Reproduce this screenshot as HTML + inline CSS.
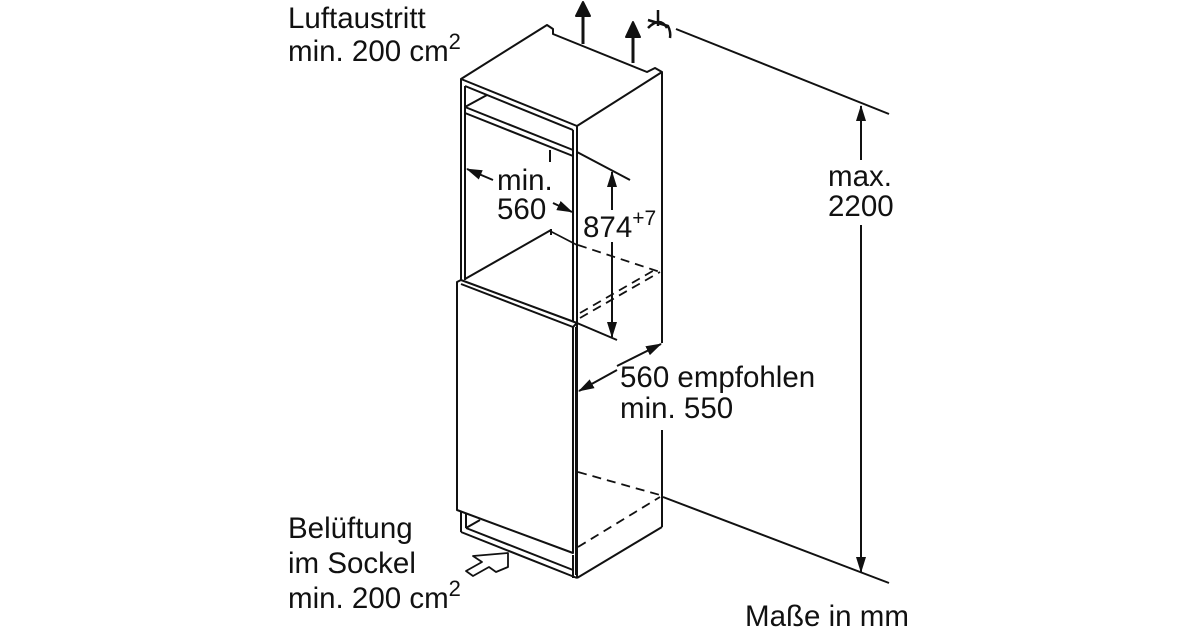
<!DOCTYPE html>
<html><head><meta charset="utf-8"><style>
html,body{margin:0;padding:0;background:#fff;}
svg{display:block;}
text{font-family:"Liberation Sans",Arial,sans-serif;font-size:29.5px;fill:#111;}
</style></head><body>
<svg width="1200" height="630" viewBox="0 0 1200 630" xmlns="http://www.w3.org/2000/svg">
<defs>
<marker id="ah" markerWidth="16" markerHeight="10" refX="15" refY="5" orient="auto" markerUnits="userSpaceOnUse"><path d="M0,0 L16,5 L0,10 Z" fill="#111"/></marker>
</defs>
<rect x="617" y="350" width="210" height="72" fill="#fff"/>
<g stroke="#111" stroke-width="2" fill="none" stroke-linejoin="round">
<path d="M461,79 L547,25 L553,29 L553,34 L647,72 L655,68 L662,72 L577,126 Z" fill="#fff"/>
<line x1="662" y1="72" x2="662" y2="343"/>
<line x1="662" y1="430" x2="662" y2="527"/>
<line x1="662" y1="527" x2="577" y2="578"/>
<line x1="577" y1="126" x2="577" y2="578"/>
<line x1="461" y1="79" x2="461" y2="282"/>
<line x1="465" y1="86" x2="465" y2="280"/>
<line x1="573" y1="130" x2="573" y2="322"/>
<line x1="465" y1="86" x2="573" y2="130"/>
<line x1="465" y1="107" x2="573" y2="150"/>
<line x1="465" y1="113" x2="573" y2="156"/>
<line x1="465" y1="107" x2="487" y2="95"/>
<line x1="465" y1="279" x2="551" y2="230"/>
<line x1="551" y1="229" x2="551" y2="235"/>
<path d="M457,282 L461,280 L577,323 L573,327 L573,553 L457,510 Z" fill="#fff"/>
<line x1="461" y1="284" x2="573" y2="327"/>
<line x1="576" y1="327" x2="576" y2="575"/>
<line x1="461" y1="512" x2="461" y2="532"/>
<line x1="466" y1="514" x2="466" y2="528"/>
<line x1="461" y1="532" x2="577" y2="578"/>
<line x1="466" y1="528" x2="573" y2="570"/>
<line x1="466" y1="528" x2="480" y2="520"/>
<line x1="573" y1="555" x2="573" y2="578"/>
<g stroke-dasharray="9,6" stroke-width="1.8">
<line x1="578" y1="245" x2="660" y2="272"/>
<line x1="580" y1="318" x2="660" y2="272"/>
<line x1="580" y1="313" x2="658" y2="268"/>
<line x1="578" y1="472" x2="660" y2="495"/>
<line x1="578" y1="547" x2="660" y2="497"/>
</g>
<line x1="550" y1="150" x2="550" y2="162"/>
<line x1="577" y1="152" x2="630" y2="180"/>
<line x1="550" y1="231" x2="577" y2="245" stroke-width="1.6"/>
<line x1="577" y1="323" x2="617" y2="340"/>
<line x1="612" y1="210" x2="612" y2="172" marker-end="url(#ah)"/>
<line x1="612" y1="242" x2="612" y2="337" marker-end="url(#ah)"/>
<line x1="493" y1="180" x2="467" y2="169" marker-end="url(#ah)"/>
<line x1="553" y1="203" x2="572" y2="212" marker-end="url(#ah)"/>
<line x1="617" y1="366" x2="661" y2="344" marker-end="url(#ah)"/>
<line x1="617" y1="370" x2="579" y2="391" marker-end="url(#ah)"/>
<line x1="676" y1="29" x2="889" y2="114"/>
<line x1="663" y1="497" x2="889" y2="583"/>
<line x1="861" y1="160" x2="861" y2="106" marker-end="url(#ah)"/>
<line x1="861" y1="225" x2="861" y2="572" marker-end="url(#ah)"/>
<line x1="583" y1="44" x2="583" y2="14" stroke-width="3"/>
<path d="M576,16 L583,2 L590,16 Z" fill="#111"/>
<line x1="633" y1="63" x2="633" y2="35" stroke-width="3"/>
<path d="M626,37 L633,22 L640,37 Z" fill="#111"/>
<line x1="658" y1="10" x2="658" y2="26" stroke-width="2.5"/>
<path d="M648,28 Q660,16 667,28" stroke-width="2.5"/>
<path d="M648,20 L668,26 Q671,32 670,38" stroke-width="2.5"/>
<path d="M508,553 L473,556 L482,562 L466,571 L473,576 L489,567 L496,572 L508,567 Z" fill="#fff" stroke-width="1.8"/>
</g>
<text x="288" y="28">Luftaustritt</text>
<text x="288" y="61">min. 200 cm<tspan font-size="22" dy="-12">2</tspan></text>
<text x="497" y="190">min.</text>
<text x="497" y="219">560</text>
<text x="583" y="237">874<tspan font-size="21" dy="-12">+7</tspan></text>
<text x="620" y="387">560 empfohlen</text>
<text x="620" y="418">min. 550</text>
<text x="828" y="186">max.</text>
<text x="828" y="216">2200</text>
<text x="288" y="538">Belüftung</text>
<text x="288" y="573">im Sockel</text>
<text x="288" y="608">min. 200 cm<tspan font-size="22" dy="-12">2</tspan></text>
<text x="745" y="626">Maße in mm</text>
</svg>
</body></html>
